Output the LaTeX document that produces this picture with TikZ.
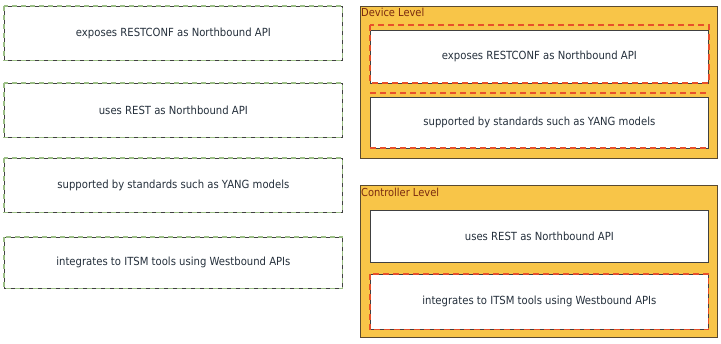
\documentclass[tikz,border=0pt]{standalone}
\usepackage{fontspec}
\setmainfont{DejaVu Sans Condensed}
\definecolor{panelfill}{HTML}{F8C548}
\definecolor{panelline}{HTML}{5A4A30}
\definecolor{greendash}{HTML}{9CBF86}
\definecolor{reddash}{HTML}{E8502A}
\definecolor{txt}{HTML}{25303C}
\definecolor{lbl}{HTML}{7A2A10}
\begin{document}
\begin{tikzpicture}[x=1pt,y=-1pt,
  card/.style={draw=black!75,line width=0.8pt,fill=white,minimum height=#1,text=txt,font=\fontsize{11.2}{13}\selectfont,inner sep=0pt},
  card/.default=52pt,
  gdash/.style={draw=greendash,line width=1.3pt,dash pattern=on 5pt off 4pt},
  rdash/.style={draw=reddash,line width=1.2pt,dash pattern=on 6pt off 4pt},
  panel/.style={draw=panelline,line width=0.8pt,fill=panelfill},
  plabel/.style={text=lbl,font=\fontsize{11}{13}\selectfont,anchor=north west,inner sep=1pt}]
\useasboundingbox[fill=white] (0,0) rectangle (721,344);
% left column
\node[card=54pt,minimum width=338pt,anchor=north west] (l1) at (4,6) {exposes RESTCONF as Northbound API};
\node[card=54pt,minimum width=338pt,anchor=north west] (l2) at (4,83) {uses REST as Northbound API};
\node[card=54pt,minimum width=338pt,anchor=north west] (l3) at (4,158) {supported by standards such as YANG models};
\node[card=51pt,minimum width=338pt,anchor=north west] (l4) at (4,237) {integrates to ITSM tools using Westbound APIs};
\foreach \n in {l1,l2,l3,l4}{\draw[gdash] (\n.north west) rectangle (\n.south east);}
% device panel
\draw[panel] (360,6) rectangle (717,158);
\node[plabel] (dl) at (360,7) {Device Level};
\node[card=53pt,minimum width=338pt,anchor=north west] (d1) at (370,30) {exposes RESTCONF as Northbound API};
\node[card=51pt,minimum width=338pt,anchor=north west] (d2) at (370,97) {supported by standards such as YANG models};
\draw[rdash] (370,25) rectangle (709,83);
\draw[rdash] (370,93) -- (709,93);
\draw[rdash] (370,148) -- (709,148);
% controller panel
\draw[panel] (360,185) rectangle (717,337);
\node[plabel] (cl) at (360,187) {Controller Level};
\node[card=52pt,minimum width=338pt,anchor=north west] (c1) at (370,210) {uses REST as Northbound API};
\node[card=55pt,minimum width=338pt,anchor=north west] (c2) at (370,274) {integrates to ITSM tools using Westbound APIs};
\draw[rdash] (c2.north west) rectangle (c2.south east);
\end{tikzpicture}
\end{document}
